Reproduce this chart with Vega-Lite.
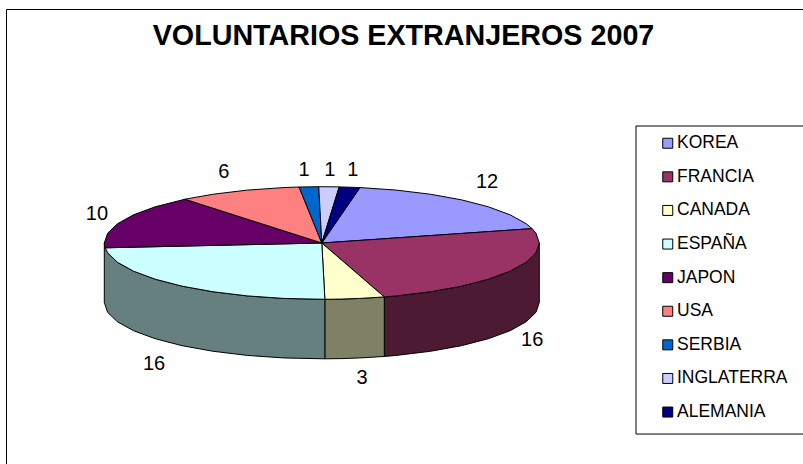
{"$schema":"https://vega.github.io/schema/vega-lite/v6.json","width":797,"height":455,"autosize":"none","padding":{"left":6,"top":9,"right":0,"bottom":0},"background":"white","config":{"view":{"stroke":"#000","strokeWidth":1},"font":"Liberation Sans"},"title":{"text":"VOLUNTARIOS EXTRANJEROS 2007","font":"Liberation Sans","fontSize":28.7,"fontWeight":"bold","color":"#000","anchor":"middle","frame":"group","offset":-42,"dx":-1},"datasets":{"tops":[
{"s":"KOREA","i":0,"x":0,"y":0},{"s":"KOREA","i":1,"x":0.1754,"y":0.9845},{"s":"KOREA","i":2,"x":0.342,"y":0.9397},{"s":"KOREA","i":3,"x":0.5,"y":0.866},{"s":"KOREA","i":4,"x":0.6428,"y":0.766},{"s":"KOREA","i":5,"x":0.766,"y":0.6428},{"s":"KOREA","i":6,"x":0.866,"y":0.5},{"s":"KOREA","i":7,"x":0.9397,"y":0.342},{"s":"KOREA","i":8,"x":0.9668,"y":0.2554},{"s":"KOREA","i":9,"x":0,"y":0},
{"s":"FRANCIA","i":0,"x":0,"y":0},{"s":"FRANCIA","i":1,"x":0.9668,"y":0.2554},{"s":"FRANCIA","i":2,"x":0.9848,"y":0.1736},{"s":"FRANCIA","i":3,"x":1,"y":0},{"s":"FRANCIA","i":4,"x":0.9848,"y":-0.1736},{"s":"FRANCIA","i":5,"x":0.9397,"y":-0.342},{"s":"FRANCIA","i":6,"x":0.866,"y":-0.5},{"s":"FRANCIA","i":7,"x":0.766,"y":-0.6428},{"s":"FRANCIA","i":8,"x":0.6428,"y":-0.766},{"s":"FRANCIA","i":9,"x":0.5,"y":-0.866},{"s":"FRANCIA","i":10,"x":0.342,"y":-0.9397},{"s":"FRANCIA","i":11,"x":0.2874,"y":-0.9578},{"s":"FRANCIA","i":12,"x":0,"y":0},
{"s":"CANADA","i":0,"x":0,"y":0},{"s":"CANADA","i":1,"x":0.2874,"y":-0.9578},{"s":"CANADA","i":2,"x":0.1736,"y":-0.9848},{"s":"CANADA","i":3,"x":0.0872,"y":-0.9962},{"s":"CANADA","i":4,"x":0.014,"y":-0.9999},{"s":"CANADA","i":5,"x":0,"y":0},
{"s":"ESPAÑA","i":0,"x":0,"y":0},{"s":"ESPAÑA","i":1,"x":0.014,"y":-0.9999},{"s":"ESPAÑA","i":2,"x":-0.1736,"y":-0.9848},{"s":"ESPAÑA","i":3,"x":-0.342,"y":-0.9397},{"s":"ESPAÑA","i":4,"x":-0.5,"y":-0.866},{"s":"ESPAÑA","i":5,"x":-0.6428,"y":-0.766},{"s":"ESPAÑA","i":6,"x":-0.766,"y":-0.6428},{"s":"ESPAÑA","i":7,"x":-0.866,"y":-0.5},{"s":"ESPAÑA","i":8,"x":-0.9397,"y":-0.342},{"s":"ESPAÑA","i":9,"x":-0.9848,"y":-0.1736},{"s":"ESPAÑA","i":10,"x":-0.9963,"y":-0.0854},{"s":"ESPAÑA","i":11,"x":0,"y":0},
{"s":"JAPON","i":0,"x":0,"y":0},{"s":"JAPON","i":1,"x":-0.9963,"y":-0.0854},{"s":"JAPON","i":2,"x":-1,"y":0},{"s":"JAPON","i":3,"x":-0.9848,"y":0.1736},{"s":"JAPON","i":4,"x":-0.9397,"y":0.342},{"s":"JAPON","i":5,"x":-0.866,"y":0.5},{"s":"JAPON","i":6,"x":-0.766,"y":0.6428},{"s":"JAPON","i":7,"x":-0.6293,"y":0.7771},{"s":"JAPON","i":8,"x":0,"y":0},
{"s":"USA","i":0,"x":0,"y":0},{"s":"USA","i":1,"x":-0.6293,"y":0.7771},{"s":"USA","i":2,"x":-0.5,"y":0.866},{"s":"USA","i":3,"x":-0.342,"y":0.9397},{"s":"USA","i":4,"x":-0.1736,"y":0.9848},{"s":"USA","i":5,"x":-0.1045,"y":0.9945},{"s":"USA","i":6,"x":0,"y":0},
{"s":"SERBIA","i":0,"x":0,"y":0},{"s":"SERBIA","i":1,"x":-0.1045,"y":0.9945},{"s":"SERBIA","i":2,"x":-0.014,"y":0.9999},{"s":"SERBIA","i":3,"x":0,"y":0},
{"s":"INGLATERRA","i":0,"x":0,"y":0},{"s":"INGLATERRA","i":1,"x":-0.014,"y":0.9999},{"s":"INGLATERRA","i":2,"x":0.08,"y":0.9968},{"s":"INGLATERRA","i":3,"x":0,"y":0},
{"s":"ALEMANIA","i":0,"x":0,"y":0},{"s":"ALEMANIA","i":1,"x":0.08,"y":0.9968},{"s":"ALEMANIA","i":2,"x":0.1754,"y":0.9845},{"s":"ALEMANIA","i":3,"x":0,"y":0}
],"sides":[
{"s":"FRANCIA","i":0,"x":1,"y":0},{"s":"FRANCIA","i":1,"x":0.9848,"y":-0.1736},{"s":"FRANCIA","i":2,"x":0.9397,"y":-0.342},{"s":"FRANCIA","i":3,"x":0.866,"y":-0.5},{"s":"FRANCIA","i":4,"x":0.766,"y":-0.6428},{"s":"FRANCIA","i":5,"x":0.6428,"y":-0.766},{"s":"FRANCIA","i":6,"x":0.5,"y":-0.866},{"s":"FRANCIA","i":7,"x":0.342,"y":-0.9397},{"s":"FRANCIA","i":8,"x":0.2874,"y":-0.9578},{"s":"FRANCIA","i":9,"x":0.2874,"y":-2.0148},{"s":"FRANCIA","i":10,"x":0.342,"y":-1.9967},{"s":"FRANCIA","i":11,"x":0.5,"y":-1.923},{"s":"FRANCIA","i":12,"x":0.6428,"y":-1.823},{"s":"FRANCIA","i":13,"x":0.766,"y":-1.6998},{"s":"FRANCIA","i":14,"x":0.866,"y":-1.557},{"s":"FRANCIA","i":15,"x":0.9397,"y":-1.399},{"s":"FRANCIA","i":16,"x":0.9848,"y":-1.2306},{"s":"FRANCIA","i":17,"x":1,"y":-1.057},{"s":"FRANCIA","i":18,"x":1,"y":0},
{"s":"CANADA","i":0,"x":0.2874,"y":-0.9578},{"s":"CANADA","i":1,"x":0.1736,"y":-0.9848},{"s":"CANADA","i":2,"x":0.0872,"y":-0.9962},{"s":"CANADA","i":3,"x":0.014,"y":-0.9999},{"s":"CANADA","i":4,"x":0.014,"y":-2.0569},{"s":"CANADA","i":5,"x":0.0872,"y":-2.0532},{"s":"CANADA","i":6,"x":0.1736,"y":-2.0418},{"s":"CANADA","i":7,"x":0.2874,"y":-2.0148},{"s":"CANADA","i":8,"x":0.2874,"y":-0.9578},
{"s":"ESPAÑA","i":0,"x":0.014,"y":-0.9999},{"s":"ESPAÑA","i":1,"x":-0.1736,"y":-0.9848},{"s":"ESPAÑA","i":2,"x":-0.342,"y":-0.9397},{"s":"ESPAÑA","i":3,"x":-0.5,"y":-0.866},{"s":"ESPAÑA","i":4,"x":-0.6428,"y":-0.766},{"s":"ESPAÑA","i":5,"x":-0.766,"y":-0.6428},{"s":"ESPAÑA","i":6,"x":-0.866,"y":-0.5},{"s":"ESPAÑA","i":7,"x":-0.9397,"y":-0.342},{"s":"ESPAÑA","i":8,"x":-0.9848,"y":-0.1736},{"s":"ESPAÑA","i":9,"x":-1,"y":0},{"s":"ESPAÑA","i":10,"x":-1,"y":-1.057},{"s":"ESPAÑA","i":11,"x":-0.9848,"y":-1.2306},{"s":"ESPAÑA","i":12,"x":-0.9397,"y":-1.399},{"s":"ESPAÑA","i":13,"x":-0.866,"y":-1.557},{"s":"ESPAÑA","i":14,"x":-0.766,"y":-1.6998},{"s":"ESPAÑA","i":15,"x":-0.6428,"y":-1.823},{"s":"ESPAÑA","i":16,"x":-0.5,"y":-1.923},{"s":"ESPAÑA","i":17,"x":-0.342,"y":-1.9967},{"s":"ESPAÑA","i":18,"x":-0.1736,"y":-2.0418},{"s":"ESPAÑA","i":19,"x":0.014,"y":-2.0569},{"s":"ESPAÑA","i":20,"x":0.014,"y":-0.9999}
],"labels":[
{"s":"KOREA","v":12,"x":0.76,"y":1.084},{"s":"FRANCIA","v":16,"x":0.967,"y":-1.723},{"s":"CANADA","v":3,"x":0.185,"y":-2.398},{"s":"ESPAÑA","v":16,"x":-0.771,"y":-2.148},{"s":"JAPON","v":10,"x":-1.034,"y":0.515},{"s":"USA","v":6,"x":-0.45,"y":1.261},{"s":"SERBIA","v":1,"x":-0.082,"y":1.29},{"s":"INGLATERRA","v":1,"x":0.037,"y":1.29},{"s":"ALEMANIA","v":1,"x":0.143,"y":1.29}
],"box":[{"x":1.4446,"x2":2.3,"y":2.078,"y2":-3.393}]},
"encoding":{"x":{"field":"x","type":"quantitative","axis":null,"scale":{"domain":[-1.452,2.2124],"nice":false,"zero":false}},"y":{"field":"y","type":"quantitative","axis":null,"scale":{"domain":[-3.925,4.156],"nice":false,"zero":false}}},
"resolve":{"scale":{"fill":"independent"},"legend":{"fill":"independent"}},
"layer":[
{"data":{"name":"box"},"mark":{"type":"rect","fill":"white","stroke":"#000","strokeWidth":1,"clip":true},"encoding":{"x2":{"field":"x2"},"y2":{"field":"y2"}}},
{"data":{"name":"sides"},"mark":{"type":"line","stroke":"#000","strokeWidth":1,"interpolate":"linear"},"encoding":{"order":{"field":"i","type":"quantitative"},"detail":{"field":"s"},"fill":{"field":"s","type":"nominal","legend":null,"scale":{"domain":["FRANCIA","CANADA","ESPAÑA"],"range":["#4D1A33","#808066","#668080"]}}}},
{"data":{"name":"tops"},"mark":{"type":"line","stroke":"#000","strokeWidth":1,"interpolate":"linear"},"encoding":{"order":{"field":"i","type":"quantitative"},"detail":{"field":"s"},"fill":{"field":"s","type":"nominal","title":null,"sort":null,"scale":{"domain":["KOREA","FRANCIA","CANADA","ESPAÑA","JAPON","USA","SERBIA","INGLATERRA","ALEMANIA"],"range":["#9999FF","#993366","#FFFFCC","#CCFFFF","#660066","#FF8080","#0066CC","#CCCCFF","#000080"]},"legend":{"orient":"none","legendX":653,"legendY":125.5,"symbolType":"square","symbolSize":100,"symbolStrokeColor":"#000","symbolStrokeWidth":1,"labelFont":"Liberation Sans","labelFontSize":17.5,"labelColor":"#000","labelOffset":0.5,"rowPadding":14.6,"labelLimit":200,"padding":0}}}},
{"data":{"name":"labels"},"mark":{"type":"text","font":"Liberation Sans","fontSize":20,"color":"#000","align":"center","baseline":"middle"},"encoding":{"text":{"field":"v","type":"quantitative"}}}
]}
